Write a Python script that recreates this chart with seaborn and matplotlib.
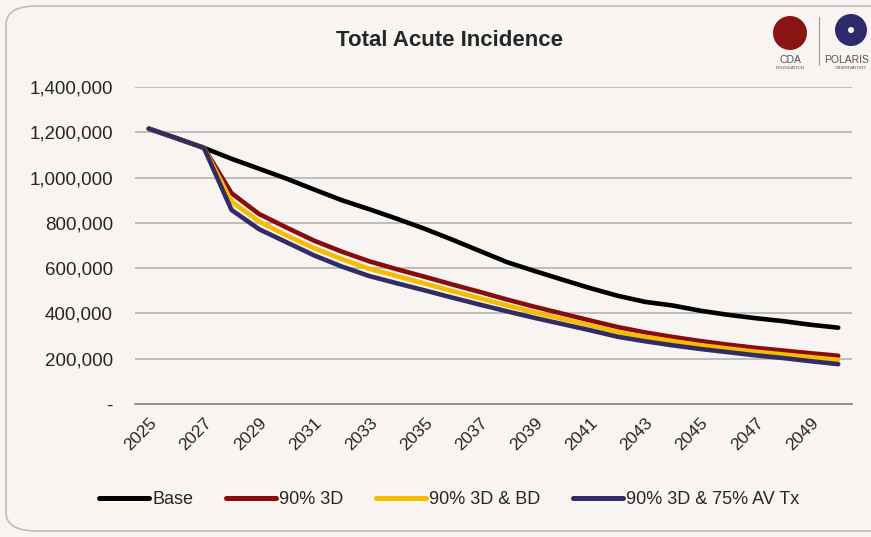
import pandas as pd
import numpy as np
import matplotlib
matplotlib.use("Agg")
import matplotlib.pyplot as plt
import seaborn as sns
from matplotlib.patches import FancyBboxPatch, Circle
from matplotlib.ticker import FuncFormatter, FixedLocator

# chart data
years = list(range(2025, 2051))
base = [1216000, 1174000, 1131000, 1083000, 1039000, 995000, 947000, 900000,
        860000, 818000, 774000, 726000, 676000, 626000, 587000, 549000,
        512000, 478000, 451000, 435000, 412000, 394000, 379000, 366000,
        350000, 337000]
s_3d = [1216000, 1174000, 1131000, 931000, 839000, 779000, 721000, 673000,
        630000, 595000, 562000, 528000, 495000, 461000, 429000, 399000,
        369000, 340000, 316000, 296000, 278000, 262000, 248000, 236000,
        224000, 213000]
s_3d_bd = [1216000, 1174000, 1131000, 894000, 806000, 744000, 688000, 640000,
           597000, 565000, 532000, 499000, 467000, 435000, 404000, 376000,
           348000, 318000, 297000, 278000, 260000, 245000, 231000, 219000,
           207000, 195000]
s_3d_av = [1216000, 1174000, 1131000, 857000, 772000, 714000, 656000, 607000,
           565000, 533000, 502000, 470000, 439000, 409000, 380000, 353000,
           326000, 297000, 277000, 259000, 243000, 229000, 215000, 203000,
           189000, 176000]
series_names = ["Base", "90% 3D", "90% 3D & BD", "90% 3D & 75% AV Tx"]
colors = ["#000000", "#8A0B0B", "#F5BC00", "#332C64"]

df = pd.DataFrame({
    "year": years * 4,
    "value": base + s_3d + s_3d_bd + s_3d_av,
    "scenario": sum([[n] * len(years) for n in series_names], []),
})

bg = "#F7F4F1"
sns.set_style("white")
plt.rcParams["font.family"] = ["Liberation Sans", "DejaVu Sans"]

fig = plt.figure(figsize=(8.71, 5.37), dpi=100, facecolor=bg)
ax = fig.add_axes([135 / 871, 1 - 404 / 537, (852 - 135) / 871, (404 - 87) / 537])
ax.set_facecolor(bg)

sns.lineplot(data=df, x="year", y="value", hue="scenario",
             hue_order=series_names, palette=colors, linewidth=3.3,
             solid_capstyle="round", ax=ax)

ax.set_xlim(2024.5, 2050.5)
ax.set_ylim(0, 1400000)
ax.set_yticks(np.arange(0, 1400001, 200000))
ax.yaxis.set_major_formatter(FuncFormatter(lambda v, p: "-" if v == 0 else f"{int(v):,}"))
ax.grid(axis="y", color="#BDBDBD", linewidth=1.4)
ax.set_axisbelow(True)

ax.set_xticks(years[::2])
ax.set_xticklabels([str(y) for y in years[::2]], rotation=45, ha="right",
                   rotation_mode="anchor")
ax.xaxis.set_minor_locator(FixedLocator(np.arange(2024.5, 2051, 2)))
ax.tick_params(axis="x", which="major", length=0, pad=8, labelsize=12.5)
ax.tick_params(axis="x", which="minor", length=5, width=1.3, color="#8C8C8C")
ax.tick_params(axis="y", length=0, pad=16, labelsize=13.5)
ax.set_xlabel("")
ax.set_ylabel("")
for side in ["left", "right", "top"]:
    ax.spines[side].set_visible(False)
ax.spines["bottom"].set_color("#8C8C8C")
ax.spines["bottom"].set_linewidth(1.3)

handles, labels = ax.get_legend_handles_labels()
ax.get_legend().remove()
for h in handles:
    h.set_linewidth(3.6)
    h.set_solid_capstyle("round")
fig.legend(handles, labels, loc="center", bbox_to_anchor=(449 / 871, 1 - 500 / 537),
           ncol=4, frameon=False, handlelength=2.8, handletextpad=0.15,
           columnspacing=1.8, prop={"size": 13})

fig.text(449 / 871, 1 - 40 / 537, "Total Acute Incidence", ha="center", va="center",
         fontsize=16, fontweight="bold")

# rounded chart border
fig.patches.append(FancyBboxPatch((6 / 871, 6 / 537), 1.05, 1 - 12 / 537,
                                  boxstyle="round,pad=0,rounding_size=0.035",
                                  transform=fig.transFigure, facecolor="none",
                                  edgecolor="#BDBDBD", linewidth=1.2))

# simple logo marks (pixel coordinates)
fig.patches.append(Circle((790, 537 - 33), 17, transform=None,
                          facecolor="#8A1414", edgecolor="none"))
fig.patches.append(Circle((851, 537 - 30), 16, transform=None,
                          facecolor="#2F2A6B", edgecolor="none"))
fig.patches.append(Circle((851, 537 - 30), 3, transform=None,
                          facecolor="white", edgecolor="none"))
fig.lines.append(plt.Line2D([819 / 871, 819 / 871], [1 - 17 / 537, 1 - 65 / 537],
                            transform=fig.transFigure, color="#9A9A9A", linewidth=0.8))
fig.text(790 / 871, 1 - 60 / 537, "CDA", ha="center", va="center", fontsize=7.5,
         color="#555555")
fig.text(790 / 871, 1 - 68 / 537, "FOUNDATION", ha="center", va="center", fontsize=3.2,
         color="#555555")
fig.text(869 / 871, 1 - 60 / 537, "POLARIS", ha="right", va="center", fontsize=7.5,
         color="#555555")
fig.text(867 / 871, 1 - 68 / 537, "OBSERVATORY", ha="right", va="center", fontsize=3.2,
         color="#555555")

fig.savefig("out.png", dpi=100, facecolor=bg)
